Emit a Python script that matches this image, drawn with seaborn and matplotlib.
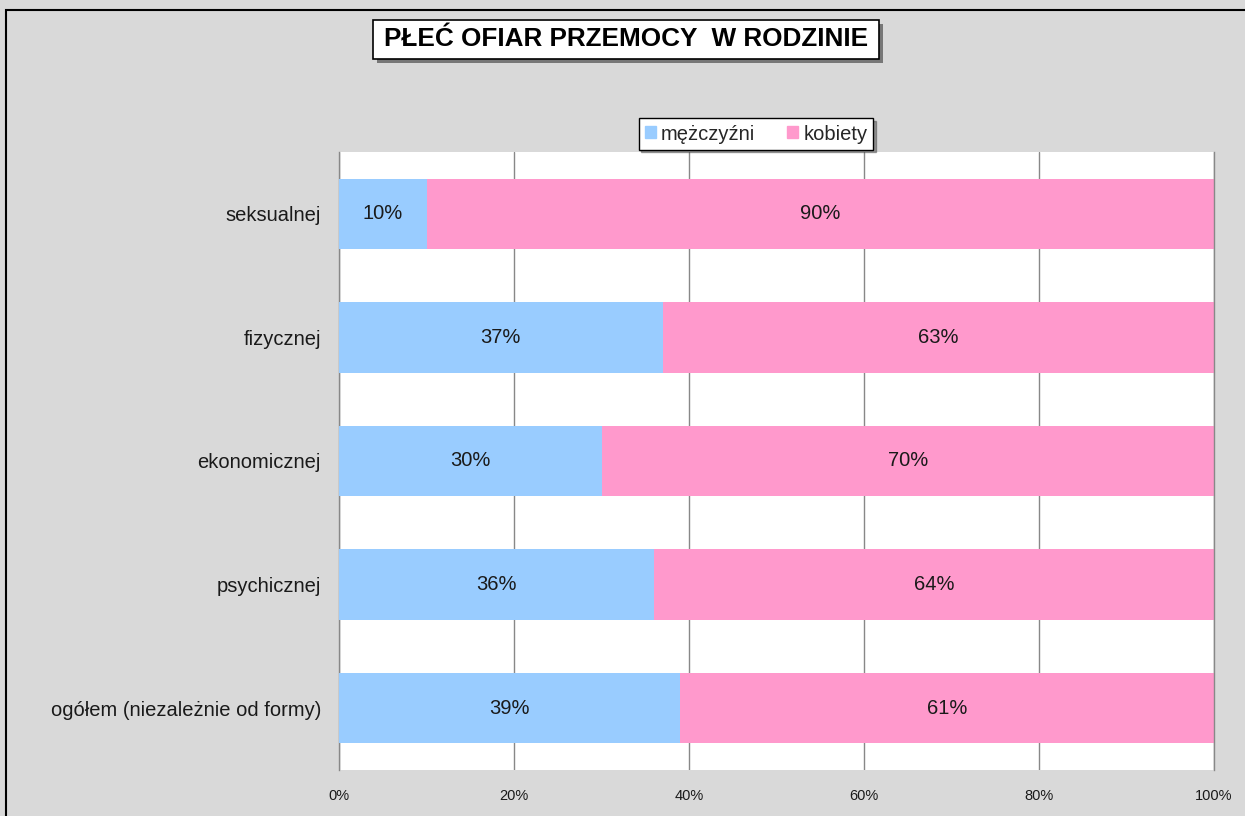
import matplotlib
matplotlib.use("Agg")
import matplotlib.pyplot as plt
import matplotlib.patches as mpatches
import pandas as pd
import seaborn as sns

# ----------------------------------------------------
# Data
# ----------------------------------------------------
categories = [
    "seksualnej",
    "fizycznej",
    "ekonomicznej",
    "psychicznej",
    "ogółem (niezależnie od formy)",
]
men = [10, 37, 30, 36, 39]
women = [90, 63, 70, 64, 61]
tick_values = [0, 20, 40, 60, 80, 100]
tick_labels = ["0%", "20%", "40%", "60%", "80%", "100%"]

title = "PŁEĆ OFIAR PRZEMOCY  W RODZINIE"
series_names = ["mężczyźni", "kobiety"]
colors = ["#99CCFF", "#FF99CC"]

df = pd.DataFrame({"forma": categories, "men": men, "women": women})
df["total"] = df["men"] + df["women"]

W, H = 1245, 816

# ----------------------------------------------------
# Plot
# ----------------------------------------------------
sns.set_theme(style="white")
plt.rcParams["font.family"] = ["Liberation Sans", "DejaVu Sans"]

fig = plt.figure(figsize=(W / 100, H / 100), dpi=100, facecolor="#D9D9D9")
ax = fig.add_axes([339 / W, 1 - 770 / H, 875 / W, 618 / H])
ax.set_facecolor("white")

# stacked bars: total (pink) underneath, men (blue) on top
sns.barplot(data=df, x="total", y="forma", orient="h", color=colors[1],
            saturation=1, width=0.57, linewidth=0, ax=ax, zorder=2)
sns.barplot(data=df, x="men", y="forma", orient="h", color=colors[0],
            saturation=1, width=0.57, linewidth=0, ax=ax, zorder=3)

for i, (m, w) in enumerate(zip(men, women)):
    ax.text(m / 2, i, f"{m}%", ha="center", va="center", fontsize=14.5,
            color="#1a1a1a", zorder=4)
    ax.text(m + w / 2, i, f"{w}%", ha="center", va="center", fontsize=14.5,
            color="#1a1a1a", zorder=4)

ax.set_xlim(0, 100)
ax.set_ylim(4.5, -0.5)
ax.set_xticks(tick_values)
ax.set_xticklabels(tick_labels, fontsize=10.5, color="#1a1a1a")
ax.tick_params(axis="y", labelsize=14.5, labelcolor="#1a1a1a", pad=13, length=0)
ax.tick_params(axis="x", pad=14, length=0)
ax.set_xlabel("")
ax.set_ylabel("")
ax.grid(axis="x", color="#888888", linewidth=1, zorder=1)
ax.set_axisbelow(True)
for side in ["top", "bottom"]:
    ax.spines[side].set_visible(False)
for side in ["left", "right"]:
    ax.spines[side].set_color("#888888")
    ax.spines[side].set_linewidth(1)

# legend
handles = [mpatches.Patch(color=c, label=n) for c, n in zip(colors, series_names)]
leg = fig.legend(handles=handles, loc="center", ncol=2,
                 bbox_to_anchor=(756 / W, 1 - 134 / H),
                 frameon=True, fancybox=False, shadow=True, fontsize=14.5,
                 handlelength=0.55, handleheight=0.55, handletextpad=0.25,
                 columnspacing=1.6, borderpad=0.3)
leg.get_frame().set_edgecolor("black")
leg.get_frame().set_linewidth(1)

# title box with drop shadow
bx0, by0, bx1, by1 = 373, 20, 879, 59
fig.add_artist(mpatches.Rectangle((bx0 / W + 4 / W, 1 - by1 / H - 4 / H),
                                  (bx1 - bx0) / W, (by1 - by0) / H,
                                  transform=fig.transFigure, facecolor="#777777",
                                  edgecolor="none"))
fig.add_artist(mpatches.Rectangle((bx0 / W, 1 - by1 / H),
                                  (bx1 - bx0) / W, (by1 - by0) / H,
                                  transform=fig.transFigure, facecolor="white",
                                  edgecolor="black", linewidth=1.2))
fig.text((bx0 + bx1) / 2 / W, 1 - (by0 + by1) / 2 / H, title,
         ha="center", va="center", fontsize=18.8, fontweight="bold",
         color="black")

# outer chart border
fig.add_artist(mpatches.Rectangle((6 / W, -0.05), 1.1, 1 - 10 / H + 0.05,
                                  transform=fig.transFigure, fill=False,
                                  edgecolor="black", linewidth=1.5))

fig.savefig("out.png", dpi=100, facecolor=fig.get_facecolor())
plt.close(fig)
